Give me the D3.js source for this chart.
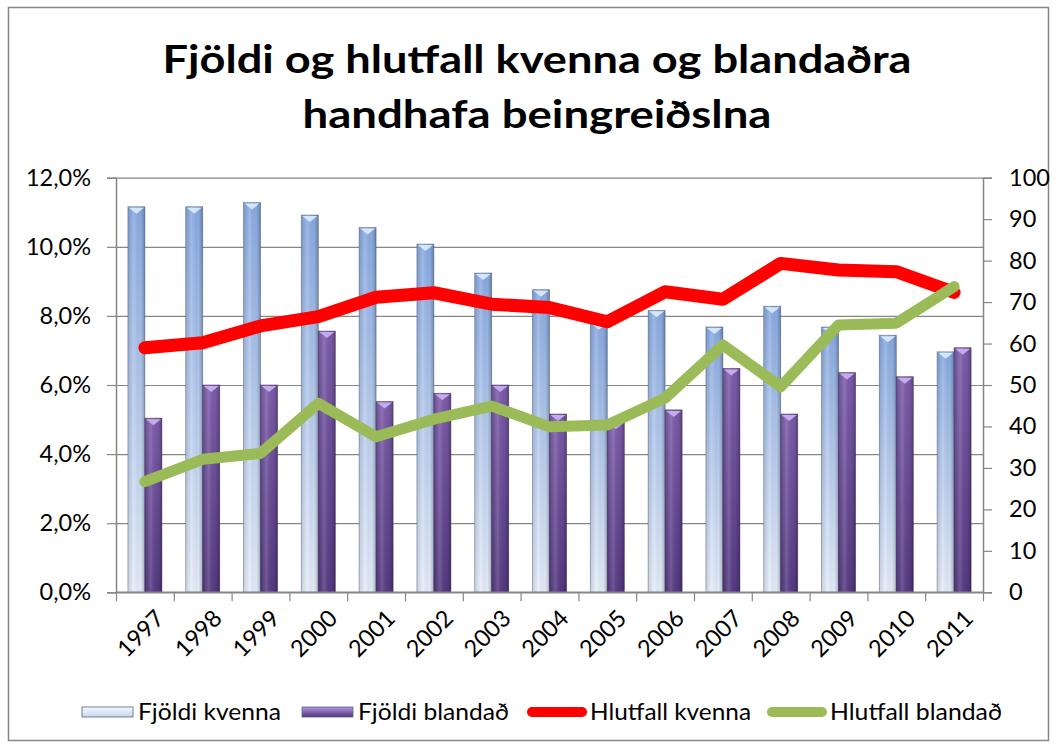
<!DOCTYPE html>
<html>
<head>
<meta charset="utf-8">
<script src="https://cdn.jsdelivr.net/npm/d3@7"></script>
<style>
  body { margin: 0; background: #fff; }
  text { font-family: Lato, "Open Sans", sans-serif; fill: #000; }
</style>
</head>
<body>
<div id="chart"></div>
<script>
// gögn lesin af myndinni
var years = ["1997", "1998", "1999", "2000", "2001", "2002", "2003", "2004",
             "2005", "2006", "2007", "2008", "2009", "2010", "2011"];
var fjoldiKvenna = [93, 93, 94, 91, 88, 84, 77, 73, 65, 68, 64, 69, 64, 62, 58];
var fjoldiBlandad = [42, 50, 50, 63, 46, 48, 50, 43, 41, 44, 54, 43, 53, 52, 59];
var hlutfallKvenna = [7.08, 7.22, 7.71, 7.98, 8.54, 8.67, 8.34, 8.24, 7.83, 8.70, 8.48, 9.52, 9.33, 9.28, 8.68];
var hlutfallBlandad = [3.20, 3.85, 4.02, 5.47, 4.50, 5.01, 5.39, 4.79, 4.84, 5.62, 7.16, 5.95, 7.74, 7.79, 8.85];
var leftTicks = [0, 2, 4, 6, 8, 10, 12];
var rightTicks = [0, 10, 20, 30, 40, 50, 60, 70, 80, 90, 100];
var legendNames = ["Fjöldi kvenna", "Fjöldi blandað", "Hlutfall kvenna", "Hlutfall blandað"];
var titleLines = ["Fjöldi og hlutfall kvenna og blandaðra", "handhafa beingreiðslna"];

(function (d3) {
    var W = 1056, H = 747;
    var plot = { left: 116, right: 983, top: 177.7, bottom: 592.3 };

    var svg = d3.select("#chart").append("svg")
                .attr("width", W)
                .attr("height", H);

    var defs = svg.append("defs");

    function vGrad(id, c0, c1) {
        var g = defs.append("linearGradient").attr("id", id)
                    .attr("x1", 0).attr("y1", 0).attr("x2", 0).attr("y2", 1);
        g.append("stop").attr("offset", "0%").attr("stop-color", c0);
        g.append("stop").attr("offset", "100%").attr("stop-color", c1);
    }
    vGrad("kvGrad", "#88aae2", "#e6eefb");
    vGrad("blGrad", "#7d5cab", "#553982");

    var sh = defs.append("linearGradient").attr("id", "shade")
                 .attr("x1", 0).attr("y1", 0).attr("x2", 1).attr("y2", 0);
    sh.append("stop").attr("offset", "0%").attr("stop-color", "#000").attr("stop-opacity", 0.12);
    sh.append("stop").attr("offset", "35%").attr("stop-color", "#fff").attr("stop-opacity", 0.15);
    sh.append("stop").attr("offset", "75%").attr("stop-color", "#000").attr("stop-opacity", 0.02);
    sh.append("stop").attr("offset", "100%").attr("stop-color", "#000").attr("stop-opacity", 0.25);

    // outer frame
    svg.append("rect")
       .attr("x", 8.5).attr("y", 7.5)
       .attr("width", 1040).attr("height", 733)
       .attr("fill", "none")
       .attr("stroke", "#878787")
       .attr("stroke-width", 1.5);

    // title
    svg.selectAll(".title")
       .data(titleLines)
       .enter()
       .append("text")
       .attr("class", "title")
       .attr("x", 537)
       .attr("y", function(d, i) { return 73 + i * 55; })
       .attr("text-anchor", "middle")
       .attr("font-size", 39)
       .attr("font-weight", "bold")
       .attr("textLength", function(d, i) { return i === 0 ? 749 : 469; })
       .attr("lengthAdjust", "spacingAndGlyphs")
       .text(function(d) { return d; });

    /***** scales *****/
    var x0 = d3.scaleBand().domain(years).range([plot.left, plot.right]).padding(0);
    var x1 = d3.scaleBand().domain(["k", "b"]).range([0, x0.bandwidth()])
               .paddingInner(0).paddingOuter(0.7);
    var yL = d3.scaleLinear().domain([0, 12]).range([plot.bottom, plot.top]);
    var yR = d3.scaleLinear().domain([0, 100]).range([plot.bottom, plot.top]);
    var xIdx = d3.scaleLinear().domain([0, years.length]).range([plot.left, plot.right]);

    var gridColor = "#868686";

    // gridlines
    var grid = svg.append("g")
                  .attr("transform", "translate(" + plot.left + ",0)")
                  .call(d3.axisLeft(yL).tickValues(leftTicks)
                          .tickSize(-(plot.right - plot.left)).tickFormat(""));
    grid.select(".domain").remove();
    grid.selectAll("line").attr("stroke", gridColor).attr("stroke-width", 1.2);

    /***** bars *****/
    var rows = years.map(function(y, i) {
        return { year: y, k: fjoldiKvenna[i], b: fjoldiBlandad[i] };
    });
    var series = [
        { key: "k", fill: "url(#kvGrad)", cap: "#d4e6fb", stroke: "#46557a" },
        { key: "b", fill: "url(#blGrad)", cap: "#c6aaee", stroke: "#2e1f47" }
    ];

    series.forEach(function(s) {
        var g = svg.append("g");
        var sel = g.selectAll("g")
                   .data(rows)
                   .enter()
                   .append("g");
        sel.append("rect")
           .attr("x", function(d) { return x0(d.year) + x1(s.key); })
           .attr("y", function(d) { return yR(d[s.key]); })
           .attr("width", x1.bandwidth())
           .attr("height", function(d) { return plot.bottom - yR(d[s.key]); })
           .attr("fill", s.fill)
           .attr("stroke", s.stroke)
           .attr("stroke-opacity", 0.55)
           .attr("stroke-width", 0.8);
        sel.append("rect")
           .attr("x", function(d) { return x0(d.year) + x1(s.key); })
           .attr("y", function(d) { return yR(d[s.key]); })
           .attr("width", x1.bandwidth())
           .attr("height", function(d) { return plot.bottom - yR(d[s.key]); })
           .attr("fill", "url(#shade)");
        sel.append("path")
           .attr("d", function(d) {
               var bx = x0(d.year) + x1(s.key), by = yR(d[s.key]), bw = x1.bandwidth();
               return "M" + (bx + 1) + "," + (by + 1) + "L" + (bx + bw - 1) + "," + (by + 1) +
                      "L" + (bx + bw / 2) + "," + (by + 7) + "Z";
           })
           .attr("fill", s.cap);
    });

    /***** axes *****/
    var axL = svg.append("g")
                 .attr("transform", "translate(" + plot.left + ",0)")
                 .call(d3.axisLeft(yL).tickValues(leftTicks).tickSize(9).tickPadding(16)
                         .tickFormat(function(d) { return d.toFixed(1).replace(".", ",") + "%"; }));
    var axR = svg.append("g")
                 .attr("transform", "translate(" + plot.right + ",0)")
                 .call(d3.axisRight(yR).tickValues(rightTicks).tickSize(9).tickPadding(17));
    var axB = svg.append("g")
                 .attr("transform", "translate(0," + plot.bottom + ")")
                 .call(d3.axisBottom(xIdx).tickValues(d3.range(years.length + 1))
                         .tickSize(9).tickSizeOuter(0).tickFormat(""));

    [axL, axR, axB].forEach(function(a) {
        a.select(".domain").attr("stroke", gridColor).attr("stroke-width", 1.5);
        a.selectAll(".tick line").attr("stroke", gridColor).attr("stroke-width", 1.2);
        a.selectAll("text").attr("font-size", 23.5).attr("font-family", "Lato").attr("fill", "#000");
    });
    axB.select(".domain").attr("d", "M" + plot.left + ",0H" + plot.right);

    // year labels
    svg.append("g")
       .selectAll("text")
       .data(years)
       .enter()
       .append("text")
       .attr("transform", function(d) {
           return "translate(" + (x0(d) + x0.bandwidth() / 2 + 9) + "," + (plot.bottom + 16) + ") rotate(-45)";
       })
       .attr("text-anchor", "end")
       .attr("dy", "0.7em")
       .attr("font-size", 23.5)
       .text(function(d) { return d; });

    /***** lines *****/
    var cx = function(i) { return x0(years[i]) + x0.bandwidth() / 2; };
    var line = d3.line()
                 .x(function(d, i) { return cx(i); })
                 .y(function(d) { return yL(d); });

    svg.append("path")
       .datum(hlutfallKvenna)
       .attr("d", line)
       .attr("fill", "none")
       .attr("stroke", "#ff0000")
       .attr("stroke-width", 13)
       .attr("stroke-linejoin", "round")
       .attr("stroke-linecap", "round");

    svg.append("path")
       .datum(hlutfallBlandad)
       .attr("d", line)
       .attr("fill", "none")
       .attr("stroke", "#9bbb59")
       .attr("stroke-width", 11)
       .attr("stroke-linejoin", "round")
       .attr("stroke-linecap", "round");

    /***** legend *****/
    var legY = 712;
    var legend = [
        { name: legendNames[0], type: "bar", fill: "url(#kvGradL)", x: 82, w: 143 },
        { name: legendNames[1], type: "bar", fill: "url(#blGradL)", x: 302, w: 151 },
        { name: legendNames[2], type: "line", color: "#ff0000", x: 527, w: 161 },
        { name: legendNames[3], type: "line", color: "#9bbb59", x: 767, w: 172 }
    ];
    vGrad("kvGradL", "#f4f8fe", "#c6d6ee");
    vGrad("blGradL", "#b596e4", "#4f3479");

    var lg = svg.append("g")
                .selectAll("g")
                .data(legend)
                .enter()
                .append("g");

    lg.filter(function(d) { return d.type === "bar"; })
      .append("rect")
      .attr("x", function(d) { return d.x; })
      .attr("y", legY - 5)
      .attr("width", 51)
      .attr("height", 10)
      .attr("fill", function(d) { return d.fill; })
      .attr("stroke", "#5a6480")
      .attr("stroke-width", 0.8);

    lg.filter(function(d) { return d.type === "line"; })
      .append("line")
      .attr("x1", function(d) { return d.x + 5; })
      .attr("x2", function(d) { return d.x + 55; })
      .attr("y1", legY)
      .attr("y2", legY)
      .attr("stroke", function(d) { return d.color; })
      .attr("stroke-width", 10)
      .attr("stroke-linecap", "round");

    lg.append("text")
      .attr("x", function(d) { return d.type === "bar" ? d.x + 56 : d.x + 63; })
      .attr("y", legY)
      .attr("dy", "0.35em")
      .attr("font-size", 23.5)
      .attr("textLength", function(d) { return d.w; })
      .attr("lengthAdjust", "spacingAndGlyphs")
      .text(function(d) { return d.name; });

})(d3);
</script>
</body>
</html>
